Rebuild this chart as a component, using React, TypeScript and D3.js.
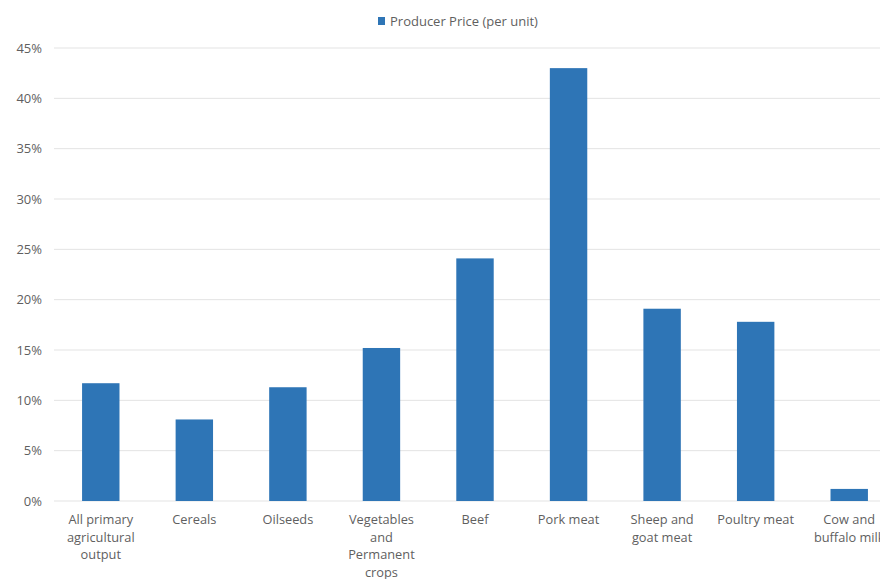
import React from "react";
import * as d3 from "d3";

const categories: string[] = [
  "All primary\nagricultural\noutput",
  "Cereals",
  "Oilseeds",
  "Vegetables\nand\nPermanent\ncrops",
  "Beef",
  "Pork meat",
  "Sheep and\ngoat meat",
  "Poultry meat",
  "Cow and\nbuffalo milk",
];
const producerPrice: number[] = [0.117, 0.081, 0.113, 0.152, 0.241, 0.43, 0.191, 0.178, 0.012];
const yTicks: number[] = [0, 0.05, 0.1, 0.15, 0.2, 0.25, 0.3, 0.35, 0.4, 0.45];
const seriesName = "Producer Price (per unit)";

const W = 880;
const H = 579;
const plotLeft = 54;
const plotRight = 896;
const plotTop = 48;
const plotBottom = 501;
const font = "'Open Sans', 'DejaVu Sans', sans-serif";
const textColor = "#5f5f5f";
const barColor = "#2e75b6";

export default function App() {
  const x = d3.scaleBand<string>().domain(categories).range([plotLeft, plotRight]).paddingInner(0.6).paddingOuter(0.3);
  const y = d3.scaleLinear().domain([0, 0.45]).range([plotBottom, plotTop]);
  const fmt = d3.format(".0%");
  return (
    <svg width={W} height={H} style={{ position: "absolute", left: 0, top: 0, background: "#fff" }} fontFamily={font}>
      <rect x={0} y={0} width={W} height={H} fill="#fff" />
      {yTicks.map((t) => (
        <g key={t}>
          <line x1={plotLeft} x2={W} y1={y(t)} y2={y(t)} stroke="#e3e3e3" strokeWidth={1} />
          <text x={42} y={y(t)} dy="0.35em" textAnchor="end" fontSize={13} fill={textColor}>
            {fmt(t)}
          </text>
        </g>
      ))}
      {categories.map((c, i) => (
        <rect key={c} x={x(c)} y={y(producerPrice[i])} width={x.bandwidth()} height={y(0) - y(producerPrice[i])} fill={barColor} />
      ))}
      {categories.map((c) => {
        const cx = (x(c) as number) + x.bandwidth() / 2;
        return (
          <text key={c} x={cx} y={524} textAnchor="middle" fontSize={12.8} fill={textColor}>
            {c.split("\n").map((ln, j) => (
              <tspan key={j} x={cx} dy={j === 0 ? 0 : 17.5}>
                {ln}
              </tspan>
            ))}
          </text>
        );
      })}
      <rect x={378} y={17} width={7} height={8} fill={barColor} />
      <text x={390} y={21} dy="0.35em" fontSize={13} fill={textColor}>
        {seriesName}
      </text>
    </svg>
  );
}
